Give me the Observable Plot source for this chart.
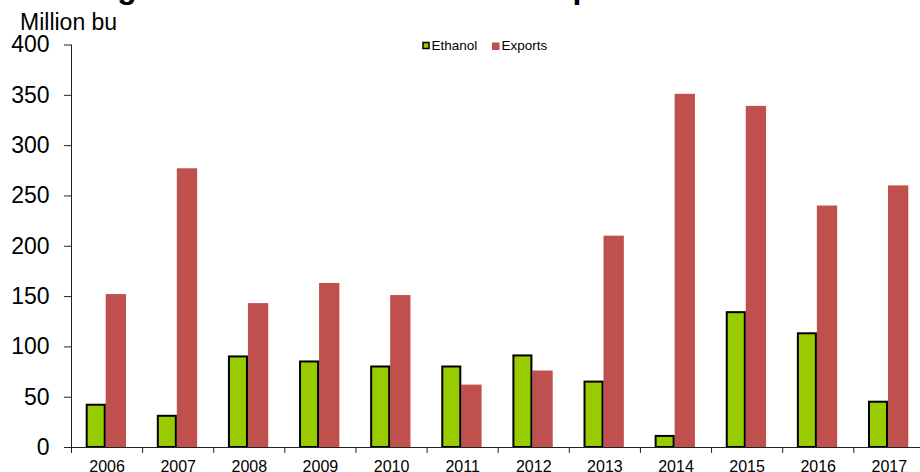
<!DOCTYPE html>
<html>
<head>
<meta charset="utf-8">
<script src="https://cdn.jsdelivr.net/npm/d3@7"></script>
<script src="https://cdn.jsdelivr.net/npm/@observablehq/plot@0.6"></script>
<style>
  body { margin: 0; background: #fff; }
  #wrap { position: relative; width: 920px; height: 472px; overflow: hidden; font-family: "Liberation Sans", Arial, sans-serif; }
  #chart { position: absolute; left: 0; top: 0; }
  #overlay { position: absolute; left: 0; top: 0; pointer-events: none; }
</style>
</head>
<body>
<div id="wrap">
  <div id="chart"></div>
  <svg id="overlay" width="920" height="472" style="overflow:visible"></svg>
</div>
<script>
// ---- data ----
const years = [2006, 2007, 2008, 2009, 2010, 2011, 2012, 2013, 2014, 2015, 2016, 2017];
const ethanol = [42, 31, 90, 85, 80, 80, 91, 65, 11, 134, 113, 45];
const exportsVals = [152, 277, 143, 163, 151, 62, 76, 210, 351, 339, 240, 260];
const seriesNames = ["Ethanol", "Exports"];
const seriesColors = ["#99CC00", "#C0504D"];
const yTicks = [0, 50, 100, 150, 200, 250, 300, 350, 400];
const titleText = "Sorghum used for ethanol and exports";
const yUnitLabel = "Million bu";

const ethData = years.map((y, i) => ({year: y, series: seriesNames[0], value: ethanol[i]}));
const expData = years.map((y, i) => ({year: y, series: seriesNames[1], value: exportsVals[i]}));
const boundaries = [...years, years[years.length - 1] + 1];
const labelPos = years.map(y => y + 0.5);

const font = "Liberation Sans, Arial, sans-serif";

const chart = Plot.plot({
  width: 920,
  height: 472,
  marginLeft: 71,
  marginRight: -4.4,
  marginTop: 44.5,
  marginBottom: 25,
  style: {fontFamily: font, background: "transparent", color: "black", overflow: "visible"},
  x: {domain: [years[0], years[years.length - 1] + 1], axis: null, label: null},
  y: {domain: [0, 400], axis: null, label: null},
  marks: [
    Plot.rectY(expData, {x1: "year", x2: d => d.year + 1, y1: 0, y2: "value",
      fill: seriesColors[1], insetLeft: 34.7, insetRight: 16.1}),
    Plot.rectY(ethData, {x1: "year", x2: d => d.year + 1, y1: 0, y2: "value",
      fill: seriesColors[0], stroke: "black", strokeWidth: 2, insetLeft: 15.7, insetRight: 37.4}),
    Plot.ruleY([0], {stroke: "#222", strokeWidth: 1}),
    Plot.ruleX([years[0]], {stroke: "#222", strokeWidth: 1}),
    Plot.axisY(yTicks, {anchor: "left", label: null, tickSize: 7, tickPadding: 15, fontSize: 23,
      tickFormat: d => String(d), stroke: "#222"}),
    Plot.axisX(boundaries, {anchor: "bottom", label: null, tickSize: 6, tickFormat: () => "", stroke: "#222"}),
    Plot.axisX(labelPos, {anchor: "bottom", label: null, tickSize: 0, tickPadding: 13, fontSize: 16,
      tickFormat: d => String(d - 0.5)})
  ]
});
document.getElementById("chart").appendChild(chart);

// ---- overlay: title, unit label, legend ----
const ov = d3.select("#overlay");
ov.append("text").attr("x", 64).attr("y", -2)
  .attr("font-family", font).attr("font-weight", "bold").attr("font-size", 32)
  .attr("fill", "black").text(titleText);
ov.append("text").attr("x", 20).attr("y", 29.5)
  .attr("font-family", font).attr("font-size", 23).attr("fill", "black").text(yUnitLabel);

const legend = [
  {name: seriesNames[0], color: seriesColors[0], stroke: "black", sx: 423, tx: 431.5},
  {name: seriesNames[1], color: seriesColors[1], stroke: "none", sx: 492, tx: 501.5}
];
legend.forEach(l => {
  ov.append("rect").attr("x", l.sx).attr("y", 42.5).attr("width", l.stroke === "none" ? 7.5 : 6).attr("height", l.stroke === "none" ? 7.5 : 6)
    .attr("fill", l.color).attr("stroke", l.stroke).attr("stroke-width", 1.5);
  ov.append("text").attr("x", l.tx).attr("y", 50)
    .attr("font-family", font).attr("font-size", 13.5).attr("fill", "black").text(l.name);
});
</script>
</body>
</html>
